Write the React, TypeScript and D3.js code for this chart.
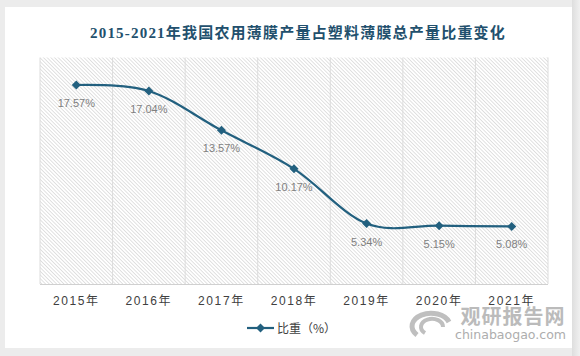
import React from "react";
import * as d3 from "d3";

const years = ["2015年", "2016年", "2017年", "2018年", "2019年", "2020年", "2021年"];
const shares = [17.57, 17.04, 13.57, 10.17, 5.34, 5.15, 5.08];
const titleText = "2015-2021年我国农用薄膜产量占塑料薄膜总产量比重变化";
const legendLabel = "比重（%）";

const W = 580;
const H = 356;
const plot = { left: 40, right: 548, top: 57.5, bottom: 284 };
const lineColor = "#22607f";

export default function App() {
  const x = d3.scaleBand<string>().domain(years).range([plot.left, plot.right]).padding(0);
  const y = d3.scaleLinear().domain([0, 20]).range([plot.bottom, plot.top]);
  const cx = (d: string) => (x(d) as number) + x.bandwidth() / 2;

  const pts: [number, number][] = years.map((d, i) => [cx(d), y(shares[i])]);
  const line = d3.line().curve(d3.curveCardinal.tension(0))(pts) as string;
  const diamond = d3.symbol().type(d3.symbolDiamond2).size(52)() as string;
  const bounds = years.map((d) => x(d) as number).concat([plot.right]);

  return (
    <svg width={W} height={H} style={{ display: "block", position: "absolute", left: 0, top: 0 }}>
      <defs>
        <pattern id="hatch" width="2.6" height="2.6" patternUnits="userSpaceOnUse" patternTransform="rotate(-45)">
          <line x1="0" y1="0" x2="0" y2="2.6" stroke="#c4c4c4" strokeWidth="1" />
        </pattern>
        <linearGradient id="rshade" x1="0" x2="1" y1="0" y2="0">
          <stop offset="0" stopColor="#dedede" />
          <stop offset="1" stopColor="#f0f0f0" />
        </linearGradient>
      </defs>
      <rect x={0} y={0} width={W} height={H} fill="#ececec" />
      <rect x={572} y={0} width={8} height={H} fill="url(#rshade)" />
      <rect x={5} y={7} width={567} height={341} fill="#ffffff" />

      <text
        x={298}
        y={38}
        textAnchor="middle"
        fontFamily="'Liberation Serif', 'Noto Sans CJK SC', serif"
        fontWeight="bold"
        fontSize={15}
        letterSpacing={1.2}
        fill="#22506d"
      >
        {titleText}
      </text>

      <rect
        x={plot.left}
        y={plot.top}
        width={plot.right - plot.left}
        height={plot.bottom - plot.top}
        fill="url(#hatch)"
      />
      {bounds.map((b, i) => (
        <line key={i} x1={b} x2={b} y1={plot.top} y2={plot.bottom} stroke="#dcdcdc" strokeWidth={1} />
      ))}
      <line x1={plot.left} x2={plot.right} y1={plot.bottom + 0.5} y2={plot.bottom + 0.5} stroke="#d0d0d0" strokeWidth={1} />

      {years.map((d) => (
        <text
          key={d}
          x={cx(d)}
          y={305}
          textAnchor="middle"
          fontFamily="'Liberation Sans', 'Noto Sans CJK SC', sans-serif"
          fontSize={12}
          letterSpacing={1.6}
          fill="#404040"
        >
          {d}
        </text>
      ))}

      <path d={line} fill="none" stroke={lineColor} strokeWidth={2.2} />
      {pts.map((p, i) => (
        <path key={i} d={diamond} transform={`translate(${p[0]},${p[1]})`} fill={lineColor} />
      ))}
      {pts.map((p, i) => (
        <text
          key={i}
          x={p[0]}
          y={p[1] + 22}
          textAnchor="middle"
          fontFamily="'Liberation Sans', sans-serif"
          fontSize={11}
          fill="#7f7f7f"
        >
          {shares[i].toFixed(2) + "%"}
        </text>
      ))}

      <line x1={247} x2={274} y1={328} y2={328} stroke={lineColor} strokeWidth={2.2} />
      <path d={diamond} transform="translate(260.5,328)" fill={lineColor} />
      <text
        x={277}
        y={332.5}
        fontFamily="'Noto Sans CJK SC', sans-serif"
        fontSize={12}
        fill="#404040"
      >
        {legendLabel}
      </text>

      <g opacity={0.85}>
        <g transform="translate(434,330)" fill="none" stroke="#b4b4b4">
          <path d="M -17 5 A 19 13 0 1 1 15 -8" strokeWidth={5} />
          <path d="M -9 3 A 11 8 0 1 1 9 -3" strokeWidth={4} />
        </g>
        <text
          x={513}
          y={324}
          textAnchor="middle"
          fontFamily="'Noto Sans CJK SC', sans-serif"
          fontWeight="bold"
          fontSize={20}
          letterSpacing={1}
          fill="#b0b0b0"
        >
          观研报告网
        </text>
        <text
          x={455}
          y={339}
          fontFamily="'DejaVu Sans', sans-serif"
          fontSize={12.5}
          textLength={111}
          lengthAdjust="spacingAndGlyphs"
          fill="#a0a0a0"
        >
          chinabaogao.com
        </text>
      </g>
    </svg>
  );
}
